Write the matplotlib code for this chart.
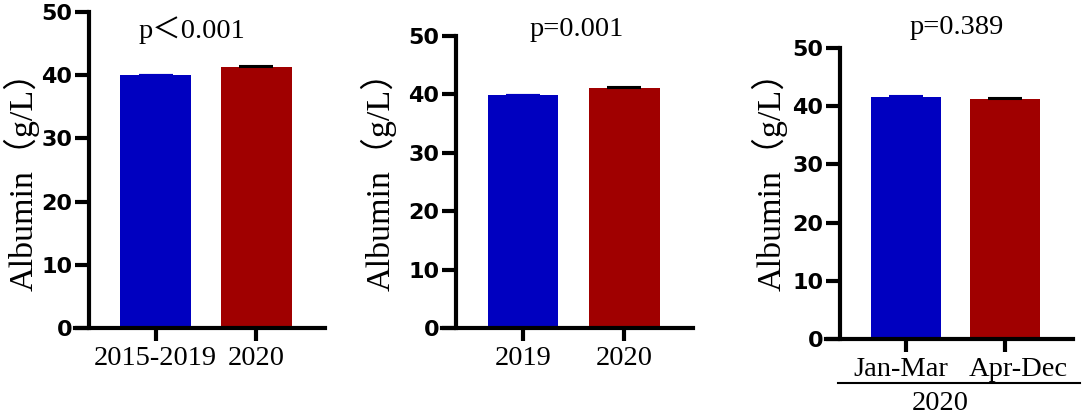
import matplotlib.pyplot as plt
from matplotlib.transforms import ScaledTranslation

# data
labels_1 = ['2015-2019', '2020']
albumin_1 = [40.0, 41.3]
err_1 = [0.05, 0.15]
p_text_1 = 'p\uff1c0.001'

labels_2 = ['2019', '2020']
albumin_2 = [39.9, 41.1]
err_2 = [0.05, 0.25]
p_text_2 = 'p=0.001'

labels_3 = ['Jan-Mar', 'Apr-Dec']
albumin_3 = [41.5, 41.2]
err_3 = [0.3, 0.15]
p_text_3 = 'p=0.389'
group_label_3 = '2020'

y_ticks = [0, 10, 20, 30, 40, 50]
y_label = 'Albumin\uff08g/L\uff09'

blue = '#0000c0'
red = '#a00000'
serif = ['Liberation Serif', 'Noto Sans CJK SC']

W, H = 1084, 415


def px_axes(fig, left, right, top, bottom):
    return fig.add_axes([left / W, 1 - bottom / H, (right - left) / W, (bottom - top) / H])


def draw_panel(ax, labels, values, errors, ylab_coords):
    x = [0, 1]
    colors = [blue, red]
    ecolors = [blue, 'black']
    ax.bar(x, values, width=0.70, color=colors, zorder=2)
    for xi, v, e, ec in zip(x, values, errors, ecolors):
        ax.errorbar(xi, v, yerr=[[0], [e]], ecolor=ec, elinewidth=1.2,
                    capsize=12, capthick=1.5, fmt='none', zorder=3)
    ax.set_xlim(-0.8, 1.68)
    ax.set_ylim(0, 50)
    ax.set_yticks(y_ticks)
    ax.set_xticks(x)
    ax.set_xticklabels(labels, fontfamily=serif, fontsize=20.5)
    for s in ['top', 'right']:
        ax.spines[s].set_visible(False)
    ax.spines['left'].set_position(('data', -0.66))
    ax.spines['left'].set_linewidth(3)
    ax.spines['bottom'].set_linewidth(3)
    ax.tick_params(axis='y', length=10, width=3, pad=2, labelsize=16)
    ax.tick_params(axis='x', length=9, width=3, pad=4)
    for t in ax.get_yticklabels():
        t.set_fontfamily('DejaVu Sans')
        t.set_fontweight('bold')
    ax.set_ylabel(y_label, fontfamily=serif, fontsize=24.5)
    ax.yaxis.set_label_coords(*ylab_coords)


fig = plt.figure(figsize=(W / 100, H / 100), dpi=100)

ax1 = px_axes(fig, 75, 325, 12, 328)
draw_panel(ax1, labels_1, albumin_1, err_1, (-0.143, 0.491))
fig.text(192 / W, 1 - 30 / H, p_text_1, fontfamily=serif, fontsize=20.5, ha='center', va='center')

ax2 = px_axes(fig, 442, 693, 36, 328)
draw_panel(ax2, labels_2, albumin_2, err_2, (-0.182, 0.531))
fig.text(577 / W, 1 - 30 / H, p_text_2, fontfamily=serif, fontsize=20.5, ha='center', va='center')

ax3 = px_axes(fig, 826, 1073, 48, 339)
draw_panel(ax3, labels_3, albumin_3, err_3, (-0.155, 0.571))
fig.text(957 / W, 1 - 28 / H, p_text_3, fontfamily=serif, fontsize=20.5, ha='center', va='center')

# the month labels sit a little apart from their ticks
shifts = [-5, 13]
for t, dx in zip(ax3.get_xticklabels(), shifts):
    t.set_transform(t.get_transform() + ScaledTranslation(dx / 100, 0, fig.dpi_scale_trans))

# group bracket under the third panel
fig.add_artist(plt.Line2D([838 / W, 1080 / W], [1 - 383 / H, 1 - 383 / H], color='black', lw=1.5))
fig.text(940 / W, 1 - 410 / H, group_label_3, fontfamily=serif, fontsize=20.5, ha='center', va='baseline')

fig.savefig('out.png', dpi=100)
